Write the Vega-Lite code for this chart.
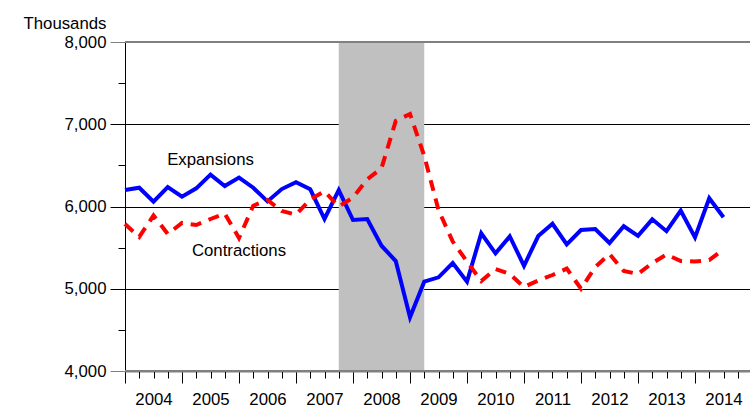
{
  "$schema": "https://vega.github.io/schema/vega-lite/v6.json",
  "width": 627,
  "height": 329,
  "autosize": "none",
  "padding": {"left": 125, "top": 42, "right": 0, "bottom": 36},
  "background": "white",
  "config": {"view": {"stroke": null}, "font": "Liberation Sans"},
  "resolve": {"axis": {"x": "independent"}},
  "datasets": {
    "recession": [{"start": 2007.75, "end": 2009.25}],
    "series": [
      {"t": 2004.00, "Expansions": 6200, "Contractions": 5787},
      {"t": 2004.25, "Expansions": 6228, "Contractions": 5630},
      {"t": 2004.50, "Expansions": 6058, "Contractions": 5890},
      {"t": 2004.75, "Expansions": 6236, "Contractions": 5666},
      {"t": 2005.00, "Expansions": 6119, "Contractions": 5800},
      {"t": 2005.25, "Expansions": 6221, "Contractions": 5775},
      {"t": 2005.50, "Expansions": 6387, "Contractions": 5848},
      {"t": 2005.75, "Expansions": 6249, "Contractions": 5915},
      {"t": 2006.00, "Expansions": 6352, "Contractions": 5617},
      {"t": 2006.25, "Expansions": 6228, "Contractions": 6010},
      {"t": 2006.50, "Expansions": 6062, "Contractions": 6080},
      {"t": 2006.75, "Expansions": 6212, "Contractions": 5945},
      {"t": 2007.00, "Expansions": 6296, "Contractions": 5900},
      {"t": 2007.25, "Expansions": 6209, "Contractions": 6085},
      {"t": 2007.50, "Expansions": 5848, "Contractions": 6185},
      {"t": 2007.75, "Expansions": 6200, "Contractions": 6000},
      {"t": 2008.00, "Expansions": 5836, "Contractions": 6110},
      {"t": 2008.25, "Expansions": 5848, "Contractions": 6330},
      {"t": 2008.50, "Expansions": 5523, "Contractions": 6465},
      {"t": 2008.75, "Expansions": 5337, "Contractions": 7040},
      {"t": 2009.00, "Expansions": 4653, "Contractions": 7125},
      {"t": 2009.25, "Expansions": 5086, "Contractions": 6615},
      {"t": 2009.50, "Expansions": 5139, "Contractions": 5957},
      {"t": 2009.75, "Expansions": 5312, "Contractions": 5574},
      {"t": 2010.00, "Expansions": 5086, "Contractions": 5331},
      {"t": 2010.25, "Expansions": 5674, "Contractions": 5094},
      {"t": 2010.50, "Expansions": 5431, "Contractions": 5240},
      {"t": 2010.75, "Expansions": 5637, "Contractions": 5180},
      {"t": 2011.00, "Expansions": 5279, "Contractions": 5021},
      {"t": 2011.25, "Expansions": 5641, "Contractions": 5100},
      {"t": 2011.50, "Expansions": 5790, "Contractions": 5167},
      {"t": 2011.75, "Expansions": 5540, "Contractions": 5245},
      {"t": 2012.00, "Expansions": 5714, "Contractions": 5000},
      {"t": 2012.25, "Expansions": 5726, "Contractions": 5264},
      {"t": 2012.50, "Expansions": 5556, "Contractions": 5422},
      {"t": 2012.75, "Expansions": 5760, "Contractions": 5216},
      {"t": 2013.00, "Expansions": 5643, "Contractions": 5179},
      {"t": 2013.25, "Expansions": 5844, "Contractions": 5313},
      {"t": 2013.50, "Expansions": 5700, "Contractions": 5416},
      {"t": 2013.75, "Expansions": 5949, "Contractions": 5337},
      {"t": 2014.00, "Expansions": 5625, "Contractions": 5331},
      {"t": 2014.25, "Expansions": 6100, "Contractions": 5349},
      {"t": 2014.50, "Expansions": 5869, "Contractions": 5480}
    ],
    "annotations": [
      {"t": 2005.5, "v": 6500, "label": "Expansions"},
      {"t": 2006.0, "v": 5400, "label": "Contractions"}
    ],
    "frame": [{"edge": 8000}, {"edge": 4000}]
  },
  "layer": [
    {
      "data": {"name": "recession"},
      "mark": {"type": "rect", "color": "#c0c0c0"},
      "encoding": {
        "x": {
          "field": "start",
          "type": "quantitative",
          "scale": {"domain": [2004, 2015], "nice": false, "zero": false},
          "axis": {
            "orient": "bottom",
            "title": null,
            "grid": false,
            "values": [2004, 2005, 2006, 2007, 2008, 2009, 2010, 2011, 2012, 2013, 2014, 2015],
            "labels": false,
            "tickSize": 12,
            "tickColor": "black",
            "tickWidth": 1,
            "domainColor": "#808080",
            "domainWidth": 2
          }
        },
        "x2": {"field": "end"}
      }
    },
    {
      "data": {"name": "series"},
      "mark": {"type": "line", "color": "#0000ff", "strokeWidth": 4},
      "encoding": {
        "x": {
          "field": "t",
          "type": "quantitative",
          "axis": {
            "orient": "bottom",
            "title": null,
            "grid": false,
            "domain": false,
            "values": [2004.25, 2004.5, 2004.75, 2005.25, 2005.5, 2005.75, 2006.25, 2006.5, 2006.75, 2007.25, 2007.5, 2007.75, 2008.25, 2008.5, 2008.75, 2009.25, 2009.5, 2009.75, 2010.25, 2010.5, 2010.75, 2011.25, 2011.5, 2011.75, 2012.25, 2012.5, 2012.75, 2013.25, 2013.5, 2013.75, 2014.25, 2014.5, 2014.75],
            "labelExpr": "abs(datum.value - floor(datum.value) - 0.5) < 0.01 ? format(floor(datum.value), 'd') : ''",
            "labelOverlap": false,
            "labelFlush": false,
            "labelBound": false,
            "labelFont": "Liberation Sans",
            "labelFontSize": 16.8,
            "labelColor": "black",
            "labelPadding": 13,
            "tickSize": 7,
            "tickColor": "black",
            "tickWidth": 1
          }
        },
        "y": {
          "field": "Expansions",
          "type": "quantitative",
          "scale": {"domain": [4000, 8000], "nice": false, "zero": false},
          "axis": {
            "values": [4000, 4500, 5000, 5500, 6000, 6500, 7000, 7500, 8000],
            "title": "Thousands",
            "titleAngle": 0,
            "titleAlign": "right",
            "titleBaseline": "alphabetic",
            "titleX": -19,
            "titleY": -14,
            "titleFont": "Liberation Sans",
            "titleFontSize": 16.8,
            "titleFontWeight": "normal",
            "titleColor": "black",
            "labelExpr": "datum.value % 1000 == 0 ? format(datum.value, ',d') : ''",
            "labelFont": "Liberation Sans",
            "labelFontSize": 16.8,
            "labelColor": "black",
            "labelPadding": 4,
            "labelOverlap": false,
            "labelFlush": false,
            "labelBound": false,
            "tickSize": {"condition": {"test": "datum.value % 1000 === 0", "value": 15}, "value": 7},
            "tickColor": {"condition": {"test": "datum.value === 8000 || datum.value === 4000", "value": "#808080"}, "value": "black"},
            "tickWidth": 1,
            "grid": true,
            "gridColor": {"condition": {"test": "datum.value === 8000", "value": "#808080"}, "value": "black"},
            "gridOpacity": {"condition": {"test": "datum.value % 1000 === 0 && datum.value !== 4000", "value": 1}, "value": 0},
            "gridWidth": 1,
            "domainColor": "black",
            "domainWidth": 1
          }
        }
      }
    },
    {
      "data": {"name": "series"},
      "mark": {"type": "line", "color": "#ff0000", "strokeWidth": 4, "strokeDash": [11, 8], "strokeCap": "butt"},
      "encoding": {
        "x": {"field": "t", "type": "quantitative", "axis": null},
        "y": {"field": "Contractions", "type": "quantitative"}
      }
    },
    {
      "data": {"name": "annotations"},
      "mark": {"type": "text", "font": "Liberation Sans", "fontSize": 16.8, "color": "black", "align": "center", "baseline": "alphabetic"},
      "encoding": {
        "x": {"field": "t", "type": "quantitative", "axis": null},
        "y": {"field": "v", "type": "quantitative"},
        "text": {"field": "label"}
      }
    },
    {
      "data": {"name": "frame"},
      "mark": {"type": "rule", "color": "#808080", "strokeWidth": 2},
      "encoding": {
        "y": {"field": "edge", "type": "quantitative"}
      }
    }
  ]
}
